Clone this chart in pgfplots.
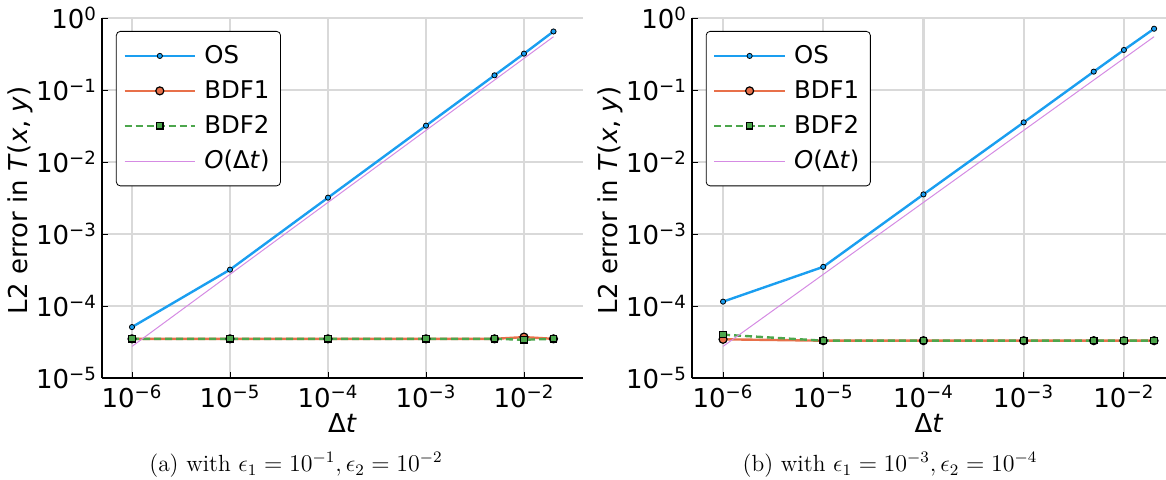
\documentclass[border=0pt]{standalone}
\usepackage{pgfplots}
\pgfplotsset{compat=1.18}
\usepackage{fontspec}
\newfontfamily\dejavu{DejaVu Sans}

\definecolor{cOS}{HTML}{1A9EF0}
\definecolor{cBDFa}{HTML}{E8704A}
\definecolor{cBDFb}{HTML}{4CA64C}
\definecolor{cOrd}{HTML}{D58BE3}
\definecolor{cGrid}{HTML}{D9D9D9}

\pgfplotsset{
  lg/.style={legend image code/.code={\draw[mark repeat=2,mark phase=2,##1]
    plot coordinates {(0cm,0cm)(0.62cm,0cm)(1.24cm,0cm)};
    \path (1.24cm+2pt,0cm);}},
  scale only axis, height=180pt,
  ymin=1e-5, ymax=1,
  axis x line*=bottom, axis y line*=left,
  axis line style={-, black, line width=0.6pt},
  grid=major, major grid style={line width=1.1pt, cGrid},
  xminorticks=false, yminorticks=false,
  tick align=inside, major tick length=3pt,
  tick style={black, line width=0.5pt},
  xtick={1e-6,1e-5,1e-4,1e-3,1e-2},
  xticklabels={10\textsuperscript{−6},10\textsuperscript{−5},10\textsuperscript{−4},10\textsuperscript{−3},10\textsuperscript{−2}},
  ytick={1e-5,1e-4,1e-3,1e-2,1e-1,1},
  yticklabels={10\textsuperscript{−5},10\textsuperscript{−4},10\textsuperscript{−3},10\textsuperscript{−2},10\textsuperscript{−1},10\textsuperscript{0}},
  ticklabel style={font=\dejavu\fontsize{13}{14}\selectfont},
  yticklabel style={xshift=1pt},
  label style={font=\dejavu\fontsize{13}{15}\selectfont},
  xlabel style={at={(axis description cs:0.5,-0.125)}, anchor=center},
  legend style={font=\dejavu\fontsize{12.2}{14}\selectfont,
    at={(axis description cs:0.029,0.964)}, anchor=north west,
    draw=black, rounded corners=2pt,
    row sep=3pt, inner xsep=3.5pt, inner ysep=5pt},
  legend cell align=left,
}

\begin{document}
\begin{tikzpicture}
\useasboundingbox (0,0) rectangle (583pt,239.5pt);

\begin{axis}[xmode=log, ymode=log, at={(51pt,50.5pt)}, anchor=south west,
  width=240.5pt, xmin=4.94e-7, xmax=0.04,
  xlabel={Δ\textit{t}},
  ylabel={L2 error in \textit{T}(\textit{x}, \textit{y})},
  ylabel style={at={(axis description cs:-0.170,0.494)}, anchor=center}]
  \addplot[cOS, line width=1.2pt, mark=*, mark size=1.3pt,
    mark options={solid, fill=cOS, draw=black, line width=0.4pt}, lg] coordinates {
    (1e-6,5.1e-5) (1e-5,3.2e-4) (1e-4,3.2e-3) (1e-3,3.2e-2)
    (5e-3,0.16) (1e-2,0.32) (2e-2,0.65)};
  \addplot[cBDFa, line width=1.2pt, mark=*, mark size=2pt,
    mark options={solid, fill=cBDFa, draw=black, line width=0.6pt}, lg] coordinates {
    (1e-6,3.5e-5) (1e-5,3.5e-5) (1e-4,3.5e-5) (1e-3,3.5e-5)
    (5e-3,3.5e-5) (1e-2,3.7e-5) (2e-2,3.5e-5)};
  \addplot[cBDFb, line width=1.2pt, dash pattern=on 3.5pt off 2pt,
    mark=square*, mark size=1.6pt,
    mark options={solid, fill=cBDFb, draw=black, line width=0.6pt}, lg] coordinates {
    (1e-6,3.5e-5) (1e-5,3.5e-5) (1e-4,3.5e-5) (1e-3,3.5e-5)
    (5e-3,3.5e-5) (1e-2,3.4e-5) (2e-2,3.5e-5)};
  \addplot[cOrd, line width=0.5pt, no marks, lg] coordinates {
    (1e-6,2.75e-5) (1e-5,2.75e-4) (1e-4,2.75e-3) (1e-3,2.75e-2)
    (5e-3,0.1375) (1e-2,0.275) (2e-2,0.55)};
  \legend{OS,BDF1,BDF2,\textit{O}(Δ\textit{t})}
\end{axis}

\begin{axis}[xmode=log, ymode=log, at={(346pt,50.5pt)}, anchor=south west,
  width=237pt, xmin=4.9e-7, xmax=0.0263,
  xlabel={Δ\textit{t}},
  ylabel={L2 error in \textit{T}(\textit{x}, \textit{y})},
  ylabel style={at={(axis description cs:-0.173,0.494)}, anchor=center}]
  \addplot[cOS, line width=1.2pt, mark=*, mark size=1.3pt,
    mark options={solid, fill=cOS, draw=black, line width=0.4pt}, lg] coordinates {
    (1e-6,1.15e-4) (1e-5,3.5e-4) (1e-4,3.55e-3) (1e-3,3.55e-2)
    (5e-3,0.18) (1e-2,0.36) (2e-2,0.71)};
  \addplot[cBDFa, line width=1.2pt, mark=*, mark size=2pt,
    mark options={solid, fill=cBDFa, draw=black, line width=0.6pt}, lg] coordinates {
    (1e-6,3.45e-5) (1e-5,3.3e-5) (1e-4,3.3e-5) (1e-3,3.3e-5)
    (5e-3,3.3e-5) (1e-2,3.3e-5) (2e-2,3.3e-5)};
  \addplot[cBDFb, line width=1.2pt, dash pattern=on 3.5pt off 2pt,
    mark=square*, mark size=1.6pt,
    mark options={solid, fill=cBDFb, draw=black, line width=0.6pt}, lg] coordinates {
    (1e-6,4.0e-5) (1e-5,3.3e-5) (1e-4,3.3e-5) (1e-3,3.3e-5)
    (5e-3,3.3e-5) (1e-2,3.3e-5) (2e-2,3.3e-5)};
  \addplot[cOrd, line width=0.5pt, no marks, lg] coordinates {
    (1e-6,2.75e-5) (1e-5,2.75e-4) (1e-4,2.75e-3) (1e-3,2.75e-2)
    (5e-3,0.1375) (1e-2,0.275) (2e-2,0.55)};
  \legend{OS,BDF1,BDF2,\textit{O}(Δ\textit{t})}
\end{axis}

\node[font=\fontsize{11.7}{13}\selectfont] at (148pt,7pt)
  {(a) with $\epsilon_1 = 10^{-1}, \epsilon_2 = 10^{-2}$};
\node[font=\fontsize{11.7}{13}\selectfont] at (445pt,7pt)
  {(b) with $\epsilon_1 = 10^{-3}, \epsilon_2 = 10^{-4}$};
\end{tikzpicture}
\end{document}
